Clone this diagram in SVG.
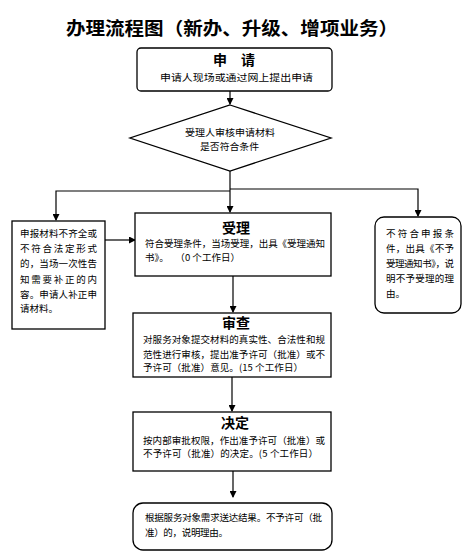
<svg xmlns="http://www.w3.org/2000/svg" width="474" height="557" viewBox="0 0 474 557">
<style>
.box{fill:#fff;stroke:#000;stroke-width:1.3}
.ln{fill:none;stroke:#000;stroke-width:1.2}
.t{font-family:"Noto Sans CJK SC","Liberation Sans",sans-serif;font-size:9.5px;fill:#000}
.h{font-family:"Noto Sans CJK SC","Liberation Sans",sans-serif;font-size:14px;font-weight:bold;fill:#000;text-anchor:middle}
.title{font-family:"Noto Sans CJK SC","Liberation Sans",sans-serif;font-size:18px;font-weight:bold;fill:#000}
</style>
<defs>
<marker id="arr" markerWidth="7" markerHeight="7" refX="6" refY="3.5" orient="auto" markerUnits="userSpaceOnUse">
<path d="M0,0 L7,3.5 L0,7 Z" fill="#000"/>
</marker>
</defs>
<rect width="474" height="557" fill="#fff"/>
<text class="title" x="66" y="35" textLength="332" lengthAdjust="spacingAndGlyphs">办理流程图（新办、升级、增项业务）</text>

<g id="connectors">
<path class="ln" d="M230,91 L230,104" marker-end="url(#arr)"/>
<path class="ln" d="M230,171 L230,212" marker-end="url(#arr)"/>
<path class="ln" d="M230,191 L56,191 L56,220" marker-end="url(#arr)"/>
<path class="ln" d="M230,189 L418,189 L418,216" marker-end="url(#arr)"/>
<path class="ln" d="M105,240 L135,240" marker-end="url(#arr)"/>
<path class="ln" d="M233,276 L233,312" marker-end="url(#arr)"/>
<path class="ln" d="M232,377 L232,411" marker-end="url(#arr)"/>
<path class="ln" d="M233,471 L233,497" marker-end="url(#arr)"/>
</g>

<g id="apply">
<rect class="box" x="137" y="48" width="195" height="43" rx="4"/>
<text class="h" x="234" y="65" font-size="13">申　请</text>
<text class="t" x="160" y="80.5" textLength="153" lengthAdjust="spacingAndGlyphs">申请人现场或通过网上提出申请</text>
</g>

<g id="check">
<polygon class="box" points="230,105 331,138 230,171 130,138"/>
<text class="t" x="185" y="135.5" textLength="90" lengthAdjust="spacingAndGlyphs">受理人审核申请材料</text>
<text class="t" x="200" y="149.5" textLength="59" lengthAdjust="spacingAndGlyphs">是否符合条件</text>
</g>

<g id="supplement">
<rect class="box" x="12" y="221" width="93" height="108"/>
<text class="t" x="20" y="236.5" textLength="77" lengthAdjust="spacing">申报材料不齐全或</text>
<text class="t" x="20" y="251.5" textLength="77" lengthAdjust="spacing">不符合法定形式</text>
<text class="t" x="20" y="266.5" textLength="77" lengthAdjust="spacing">的，当场一次性告</text>
<text class="t" x="20" y="282.5" textLength="77" lengthAdjust="spacing">知需要补正的内</text>
<text class="t" x="20" y="297.5" textLength="77" lengthAdjust="spacing">容。申请人补正申</text>
<text class="t" x="20" y="311.5">请材料。</text>
</g>

<g id="accept">
<rect class="box" x="135" y="213" width="196" height="63"/>
<text class="h" x="236" y="233">受理</text>
<text class="t" x="145" y="246.5" textLength="180" lengthAdjust="spacing">符合受理条件，当场受理，出具《受理通知</text>
<text class="t" x="145" y="260.5" xml:space="preserve" textLength="95" lengthAdjust="spacing">书》。   （0 个工作日）</text>
</g>

<g id="reject">
<rect class="box" x="375" y="217" width="86" height="96" rx="9"/>
<text class="t" x="386" y="236.5" textLength="68" lengthAdjust="spacing">不符合申报条</text>
<text class="t" x="386" y="251.5" textLength="68" lengthAdjust="spacing">件，出具《不予</text>
<text class="t" x="386" y="266.5" textLength="68" lengthAdjust="spacing">受理通知书》，说</text>
<text class="t" x="386" y="281.5" textLength="68" lengthAdjust="spacing">明不予受理的理</text>
<text class="t" x="386" y="296.5">由。</text>
</g>

<g id="review">
<rect class="box" x="133" y="313" width="198" height="64"/>
<text class="h" x="236" y="328">审查</text>
<text class="t" x="143" y="342.5" textLength="182" lengthAdjust="spacing">对服务对象提交材料的真实性、合法性和规</text>
<text class="t" x="143" y="357.5" textLength="182" lengthAdjust="spacing">范性进行审核，提出准予许可（批准）或不</text>
<text class="t" x="143" y="370.5" textLength="160" lengthAdjust="spacing">予许可（批准）意见。(15 个工作日）</text>
</g>

<g id="decide">
<rect class="box" x="133" y="412" width="198" height="59"/>
<text class="h" x="235" y="428">决定</text>
<text class="t" x="143" y="443.5" textLength="182" lengthAdjust="spacing">按内部审批权限，作出准予许可（批准）或</text>
<text class="t" x="143" y="456.5" textLength="175" lengthAdjust="spacing">不予许可（批准）的决定。(5 个工作日）</text>
</g>

<g id="deliver">
<rect class="box" x="133" y="503" width="199" height="47" rx="10"/>
<text class="t" x="145" y="520.5" textLength="177" lengthAdjust="spacing">根据服务对象需求送达结果。不予许可（批</text>
<text class="t" x="145" y="535.5" textLength="83" lengthAdjust="spacing">准）的，说明理由。</text>
</g>
</svg>
